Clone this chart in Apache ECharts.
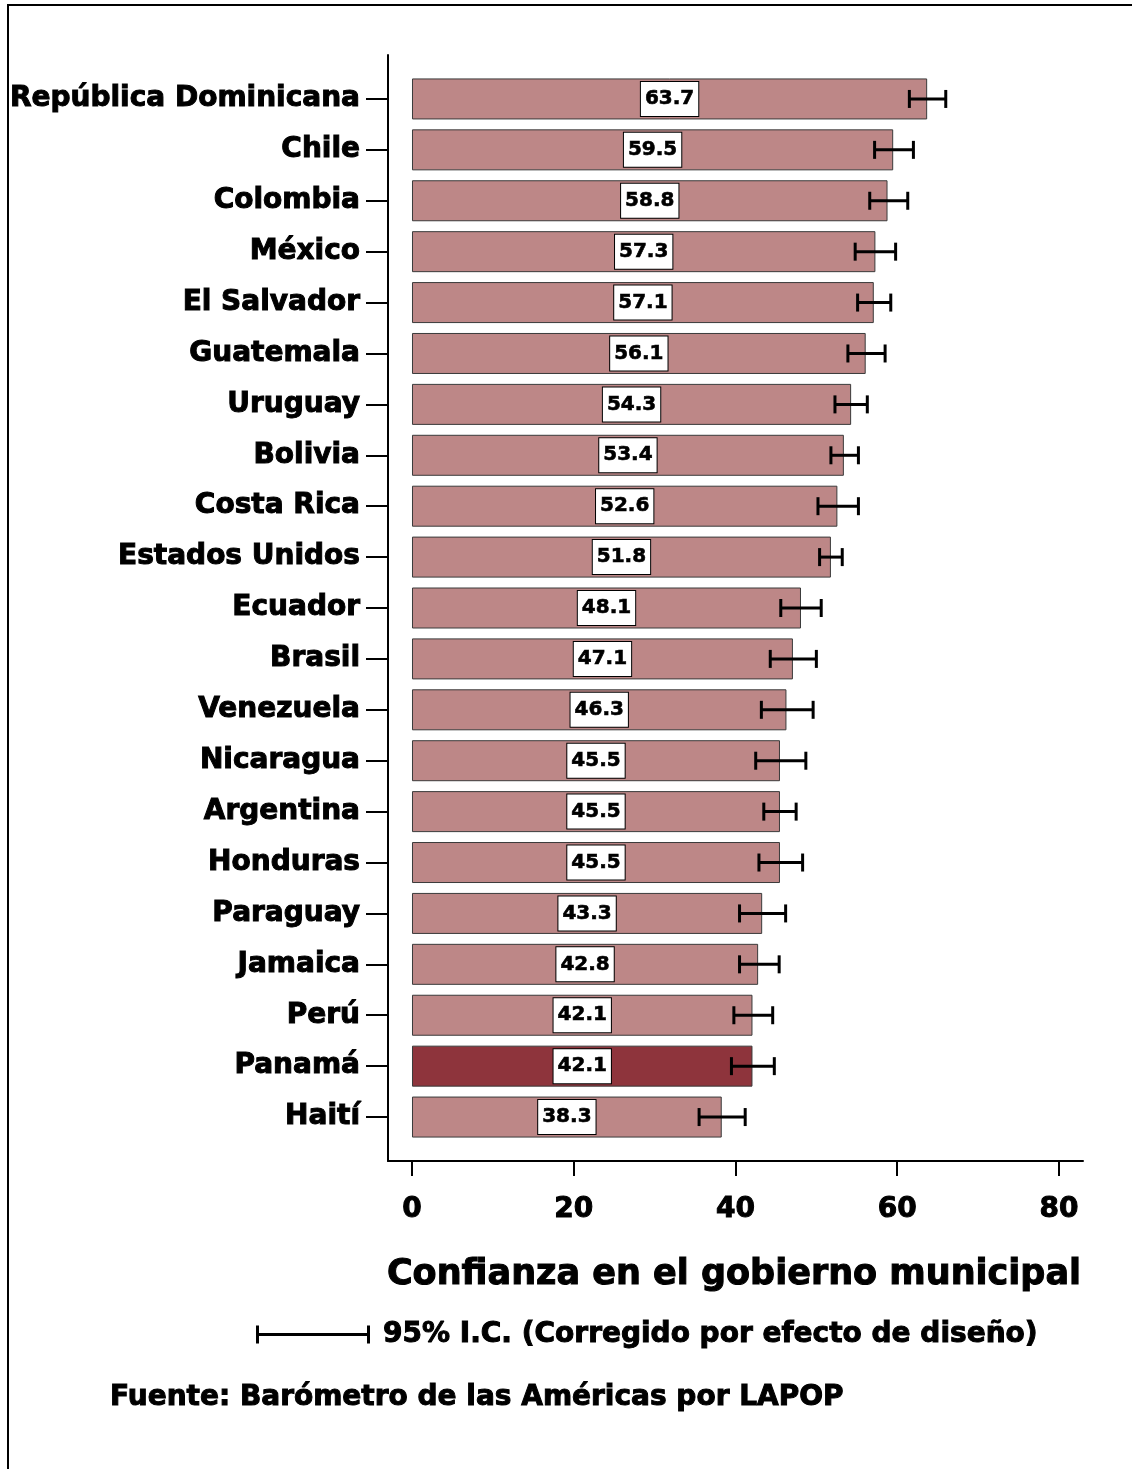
<!DOCTYPE html>
<html>
<head>
<meta charset="utf-8">
<script src="https://cdn.jsdelivr.net/npm/echarts@6/dist/echarts.min.js"></script>
<style>html,body{margin:0;padding:0;background:#fff}#c{width:1132px;height:1469px}</style>
</head>
<body>
<div id="c"></div>
<script>
const countries = ['República Dominicana','Chile','Colombia','México','El Salvador','Guatemala','Uruguay','Bolivia','Costa Rica','Estados Unidos','Ecuador','Brasil','Venezuela','Nicaragua','Argentina','Honduras','Paraguay','Jamaica','Perú','Panamá','Haití'];
const values = [63.7,59.5,58.8,57.3,57.1,56.1,54.3,53.4,52.6,51.8,48.1,47.1,46.3,45.5,45.5,45.5,43.3,42.8,42.1,42.1,38.3];
const ciLow  = [61.5,57.2,56.6,54.8,55.1,53.9,52.3,51.8,50.2,50.4,45.6,44.3,43.2,42.5,43.5,42.9,40.5,40.5,39.8,39.5,35.5];
const ciHigh = [66.0,62.0,61.3,59.8,59.2,58.5,56.3,55.2,55.2,53.2,50.6,50.0,49.6,48.7,47.5,48.3,46.2,45.4,44.6,44.8,41.2];
const xTicks = [0,20,40,60,80];
const highlight = 'Panamá';
const titleText = 'Confianza en el gobierno municipal';
const legendText = '95% I.C. (Corregido por efecto de diseño)';
const sourceText = 'Fuente: Barómetro de las Américas por LAPOP';

const FONT = 'DejaVu Sans';
const HEAVY = {fontFamily:FONT, fontWeight:'bold', color:'#000', textBorderColor:'#000', textBorderWidth:1};
const chart = echarts.init(document.getElementById('c'), null, {renderer:'canvas'});

const barData = values.map((v,i)=>({
  value: v,
  itemStyle: {color: countries[i]===highlight ? '#8E343C' : '#BD8787'}
}));
const ciData = countries.map((c,i)=>[i, ciLow[i], ciHigh[i]]);

chart.setOption({
  animation: false,
  backgroundColor: '#fff',
  title: [
    {text: titleText, right: 50, top: 1257, padding: 0, textStyle:Object.assign({fontSize:35}, HEAVY)},
    {text: sourceText, left: 110, top: 1384, padding: 0, textStyle:Object.assign({fontSize:28}, HEAVY)}
  ],
  legend: {
    left: 256, top: 1320, padding: 0, itemWidth: 114, itemHeight: 18, itemGap: 13,
    data: [{name: legendText, icon: 'path://M0,0 L3,0 L3,7.5 L111,7.5 L111,0 L114,0 L114,18 L111,18 L111,10.5 L3,10.5 L3,18 L0,18 Z'}],
    textStyle: Object.assign({fontSize:28, padding:[8,0,0,8]}, HEAVY),
    selectedMode: false
  },
  grid: [
    {left: 388, top: 73.5, width: 695, height: 1069},
    {left: 388, top: 55, width: 695, height: 1106}
  ],
  xAxis: [
    {gridIndex:0, type:'value', min:-2.9675, max:82.97, offset:18.5,
     axisLine:{show:false, onZero:false}, splitLine:{show:false},
     axisTick:{show:true, length:15, customValues: xTicks, lineStyle:{color:'#000', width:2}},
     axisLabel:Object.assign({margin:35, fontSize:28, customValues: xTicks, formatter: v=>String(v)}, HEAVY)},
    {gridIndex:1, type:'value', min:0, max:1, axisLine:{show:true, onZero:false, lineStyle:{color:'#000', width:2}},
     axisTick:{show:false}, axisLabel:{show:false}, splitLine:{show:false}}
  ],
  yAxis: [
    {gridIndex:0, type:'category', data: countries, inverse:true,
     axisLine:{show:false, onZero:false},
     axisTick:{show:true, alignWithLabel:true, length:22, lineStyle:{color:'#000', width:2}},
     axisLabel:Object.assign({margin:28, fontSize:28, lineHeight:34, verticalAlign:'middle', padding:[10,0,0,0]}, HEAVY)},
    {gridIndex:1, type:'value', min:0, max:1, axisLine:{show:true, onZero:false, lineStyle:{color:'#000', width:2}},
     axisTick:{show:false}, axisLabel:{show:false}, splitLine:{show:false}}
  ],
  graphic: [
    {type:'rect', shape:{x:8, y:5, width:1200, height:1600}, style:{fill:'none', stroke:'#000', lineWidth:2}, silent:true}
  ],
  series: [
    {type:'bar', xAxisIndex:0, yAxisIndex:0, data: barData, barWidth: 41,
     itemStyle:{borderColor:'#3a3a3a', borderWidth:1},
     label:Object.assign({show:true, position:'inside', formatter: p=>p.value.toFixed(1),
       fontSize:20, lineHeight:22, textBorderWidth:0.6,
       backgroundColor:'#fff', borderColor:'#000', borderWidth:1, padding:[6,4,6,4]},
       {fontFamily:FONT, fontWeight:'bold', color:'#000', textBorderColor:'#000'})},
    {type:'custom', name: legendText, xAxisIndex:0, yAxisIndex:0, data: ciData,
     itemStyle:{color:'#000'},
     encode:{y:0, x:[1,2]},
     z: 5,
     renderItem: function(params, api){
       const y = api.value(0);
       const a = api.coord([api.value(1), y]);
       const b = api.coord([api.value(2), y]);
       const h = 9;
       const st = {stroke:'#000', lineWidth:3, fill:'none'};
       return {type:'group', children:[
         {type:'line', shape:{x1:a[0], y1:a[1], x2:b[0], y2:b[1]}, style:st},
         {type:'line', shape:{x1:a[0], y1:a[1]-h, x2:a[0], y2:a[1]+h}, style:st},
         {type:'line', shape:{x1:b[0], y1:b[1]-h, x2:b[0], y2:b[1]+h}, style:st}
       ]};
     }}
  ]
});
</script>
</body>
</html>
